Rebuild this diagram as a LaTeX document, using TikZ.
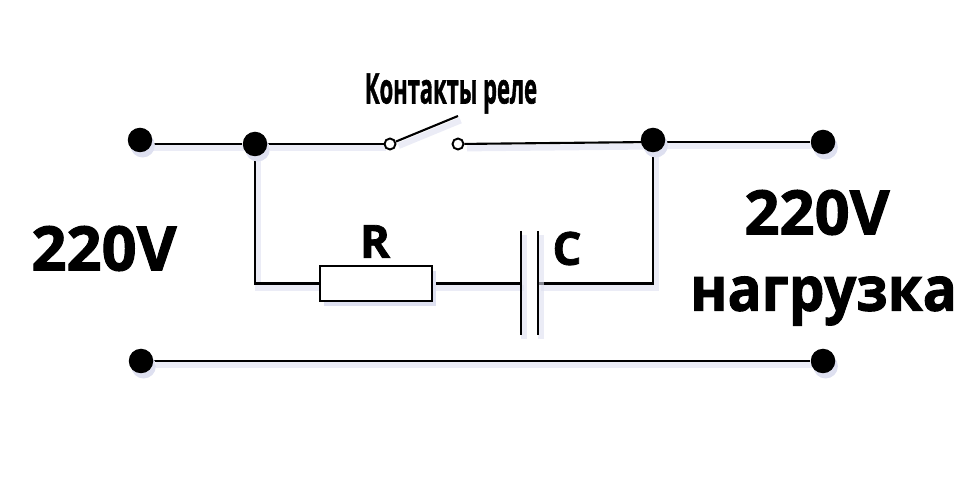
\documentclass[tikz,border=0pt]{standalone}
\usepackage{fontspec}
\usetikzlibrary{backgrounds}
\setmainfont[BoldFeatures={FakeBold=1.6}]{Open Sans}
\definecolor{shadowblue}{RGB}{222,224,240}
\tikzset{
	wire/.style={line width=1.2pt, preaction={draw=shadowblue, line width=3.5pt, opacity=0.6, transform canvas={shift={(1.5pt,-2.5pt)}}}},
	terminal/.style={circle, fill=black, inner sep=0pt, minimum size=0.49cm, preaction={fill=shadowblue, transform canvas={shift={(1.5pt,-3pt)}}}},
	contact/.style={circle, draw=black, fill=white, line width=1.1pt, inner sep=0pt, minimum size=0.22cm},
	label/.style={font=\bfseries\fontsize{35}{35}\selectfont, inner sep=0pt},
	sublabel/.style={font=\bfseries\fontsize{26}{26}\selectfont, inner sep=0pt},
}
\begin{document}
\begin{tikzpicture}
	\useasboundingbox (0,0) rectangle (19.16,9.9);
	\node[terminal] (IL) at (2.8,7.1) {};
	\node[terminal] (JL) at (5.1,7.02) {};
	\node[terminal] (JR) at (13.06,7.1) {};
	\node[terminal] (OL) at (16.46,7.06) {};
	\node[terminal] (IN) at (2.82,2.68) {};
	\node[terminal] (ON) at (16.46,2.68) {};
	\node[contact] (K1) at (7.8,7.02) {};
	\node[contact] (K2) at (9.16,7.02) {};
	\coordinate (KE) at (9.16,7.58);
	\node[draw=black, fill=white, line width=1.2pt, minimum width=2.24cm, minimum height=0.7cm, inner sep=0pt, outer sep=0pt,
		preaction={fill=shadowblue, transform canvas={shift={(2pt,-3pt)}}}] (R) at (7.52,4.23) {};
	\coordinate (C1) at (10.42,4.23);
	\coordinate (C2) at (10.76,4.23);
	\coordinate (BL) at (5.1,4.23);
	\coordinate (BR) at (13.06,4.23);
	\coordinate (CT1) at (10.42,5.28);
	\coordinate (CB1) at (10.42,3.2);
	\coordinate (CT2) at (10.76,5.28);
	\coordinate (CB2) at (10.76,3.2);
	\begin{scope}[on background layer]
		\draw[wire] (JL -| IL) -- (JL);
		\draw[wire] (JL) -- (K1);
		\draw[wire] (K1) -- (KE);
		\draw[wire] (K2) -- (JR |- OL);
		\draw[wire] (JR |- OL) -- (OL);
		\draw[wire] (IN) -- (ON);
		\draw[wire] (JL) -- (BL) -- (R.west);
		\draw[wire] (R.east) -- (C1);
		\draw[wire] (C2) -- (BR) -- (JR);
		\draw[wire] (CT1) -- (CB1);
		\draw[wire] (CT2) -- (CB2);
	\end{scope}
	\node[font=\bfseries\fontsize{24}{24}\selectfont, xscale=0.52, inner sep=0pt] (KR) at (9.02,8.03) {Контакты реле};
	\node[sublabel] (LR) at (7.5,5.07) {R};
	\node[sublabel] (LC) at (11.34,4.93) {C};
	\node[label] (UI) at (2.08,4.93) {220V};
	\node[label] (UO) at (16.34,5.65) {220V};
	\node[label, xscale=0.92] (LD) at (16.47,3.88) {нагрузка};
\end{tikzpicture}
\end{document}
